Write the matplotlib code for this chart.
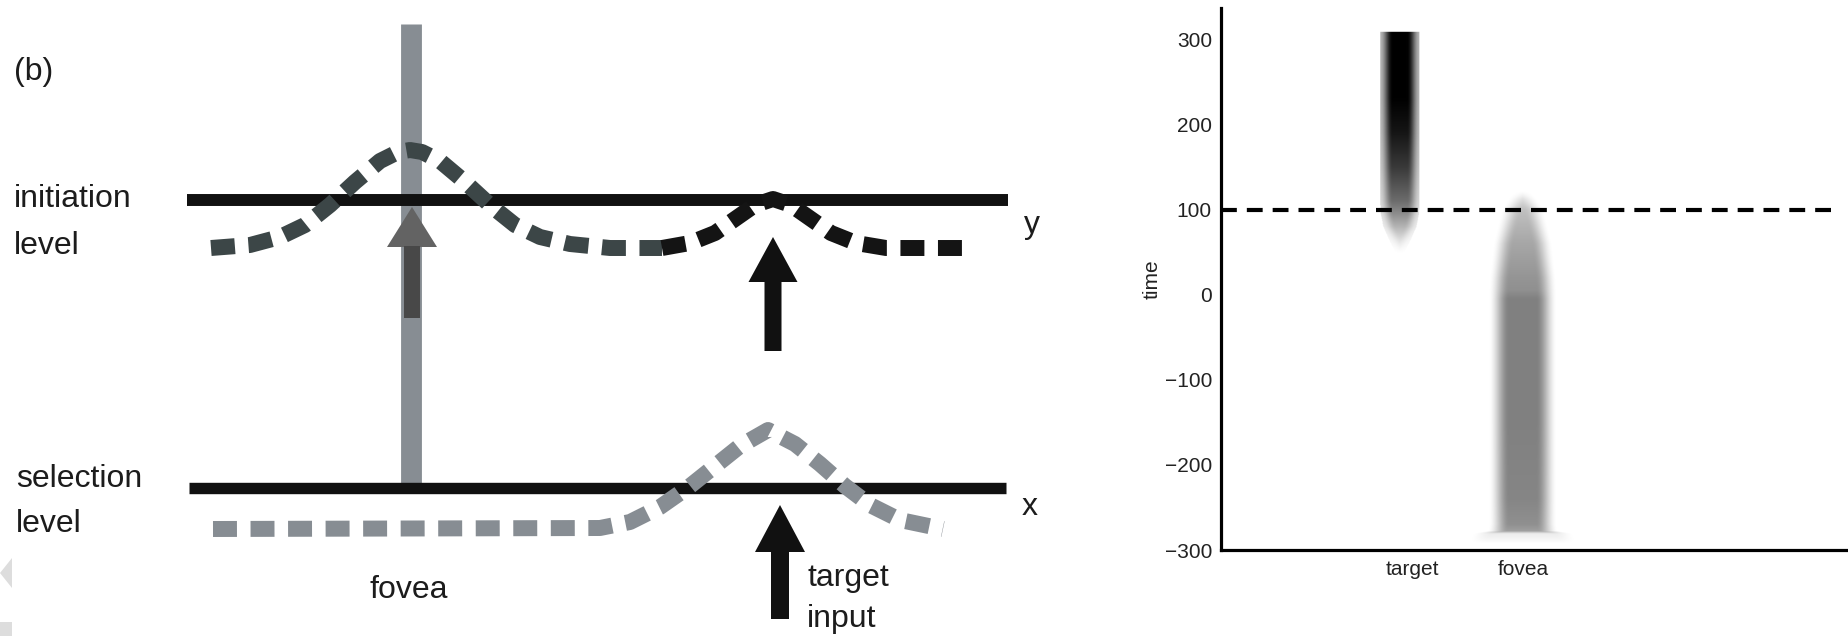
import numpy as np
import matplotlib.pyplot as plt
import matplotlib.transforms as mtransforms
from matplotlib.patches import Polygon

plt.rcParams['font.family'] = ['Liberation Sans', 'DejaVu Sans']

# ---------------- panel (b): schematic (image pixel units, y grows downward)
init_level_y = 200
select_level_y = 488
level_x = [187, 1008]
fovea_x = 411
target_x = 775

# initiation-level activity
init_x = [211, 250, 280, 305, 330, 355, 380, 398, 410, 422, 440, 465, 490, 515, 540, 570, 610, 662]
init_y = [248, 245, 237, 225, 205, 182, 161, 152, 150, 152, 161, 182, 205, 225, 237, 244, 248, 248]
init2_x = [662, 690, 715, 735, 755, 773, 791, 811, 831, 856, 886, 964]
init2_y = [248, 243, 233, 219, 205, 199, 205, 219, 233, 243, 248, 248]
# selection-level activity
sel_x = [213, 600, 630, 660, 690, 715, 740, 768, 795, 820, 845, 870, 900, 943]
sel_y = [529, 528, 522, 507, 486, 466, 446, 430, 444, 464, 486, 505, 520, 529]

# ---------------- panel (c): time course
categories = ['target', 'fovea']
cat_pos = [1, 2]
yticks = [-300, -200, -100, 0, 100, 200, 300]
threshold = 100

target_time = [309, 230, 190, 150, 110, 95, 80, 65, 48]
target_dark = [1.0, 1.0, 0.92, 0.78, 0.58, 0.45, 0.3, 0.14, 0.0]
target_half = [0.16, 0.16, 0.16, 0.16, 0.16, 0.155, 0.135, 0.09, 0.03]

fovea_time = [122, 112, 100, 60, 20, 5, -5, -150, -240, -270, -278, -281, -288, -293]
fovea_dark = [0.0, 0.15, 0.25, 0.35, 0.42, 0.44, 0.5, 0.5, 0.48, 0.44, 0.38, 0.08, 0.04, 0.0]
fovea_half = [0.08, 0.13, 0.18, 0.245, 0.275, 0.28, 0.28, 0.28, 0.28, 0.28, 0.29, 0.42, 0.45, 0.45]

fig = plt.figure(figsize=(18.49, 6.36), dpi=100)

# ---------- left schematic
ax = fig.add_axes([0, 0, 1100 / 1849, 1])
ax.set_xlim(0, 1100)
ax.set_ylim(636, 0)
ax.axis('off')

slate = '#3c4647'
grey = '#878d93'
ax.plot([fovea_x, fovea_x], [24, select_level_y - 5], color=grey, lw=15, solid_capstyle='butt', zorder=1)
ax.plot(level_x, [init_level_y] * 2, color='#111111', lw=8.6, solid_capstyle='butt', zorder=2)
ax.plot([189, 1006], [select_level_y] * 2, color='#111111', lw=8.2, solid_capstyle='butt', zorder=2)

dash = (0, (1.5, 0.85))
ax.plot(init_x, init_y, color=slate, lw=11.5, ls=dash, dash_capstyle='butt', zorder=4)
ax.plot(init2_x, init2_y, color='#141414', lw=11.5, ls=dash, dash_capstyle='butt', zorder=4)
ax.plot(sel_x, sel_y, color=grey, lw=11.5, ls=dash, dash_capstyle='butt', zorder=4)

# arrows
ax.arrow(fovea_x + 1, 318, 0, -111, width=16, head_width=50, head_length=40,
         length_includes_head=True, color='#636363', lw=0, zorder=3)
ax.plot([fovea_x + 1, fovea_x + 1], [318, 246], color='#484848', lw=11.5, solid_capstyle='butt', zorder=3)
ax.arrow(773, 351, 0, -114, width=17, head_width=49, head_length=45,
         length_includes_head=True, color='#111111', lw=0, zorder=3)
ax.arrow(780, 619, 0, -114, width=18, head_width=50, head_length=47,
         length_includes_head=True, color='#111111', lw=0, zorder=3)

fs = 23
tc = '#1c1c1c'
ax.text(14, 80, '(b)', fontsize=fs, color=tc, va='baseline')
ax.text(14, 207, 'initiation', fontsize=fs, color=tc, va='baseline')
ax.text(14, 254, 'level', fontsize=fs, color=tc, va='baseline')
ax.text(16, 487, 'selection', fontsize=fs, color=tc, va='baseline')
ax.text(16, 532, 'level', fontsize=fs, color=tc, va='baseline')
ax.text(409, 598, 'fovea', fontsize=fs, color=tc, va='baseline', ha='center')
ax.text(807, 586, 'target', fontsize=fs, color=tc, va='baseline')
ax.text(807, 627, 'input', fontsize=fs, color=tc, va='baseline')
ax.text(1024, 233, 'y', fontsize=fs, color=tc, va='baseline')
ax.text(1022, 515, 'x', fontsize=fs, color=tc, va='baseline')

# faint page marks at left edge
ax.add_patch(Polygon([[0, 573], [12, 558], [12, 588]], closed=True, color='#dddddd', lw=0))
ax.add_patch(Polygon([[0, 622], [12, 622], [12, 636], [0, 636]], closed=True, color='#dddddd', lw=0))

# ---------- right time course
bx = fig.add_axes([1221 / 1849, 86 / 636, 628 / 1849, 542 / 636])
bx.set_ylim(-300, 337)
bx.set_xlim(-0.455, 4.651)

xs = np.linspace(0.4, 2.7, 600)
ys = np.linspace(-300, 320, 700)


def column_alpha(cx, times, dark, half, soft, rim):
    t = np.asarray(times)[::-1]
    d = np.interp(ys, t, np.asarray(dark)[::-1], left=0, right=0)
    h = np.interp(ys, t, np.asarray(half)[::-1], left=0, right=0)
    dx = np.abs(xs[None, :] - cx)
    inner = np.clip((h[:, None] - dx) / soft, 0, 1)
    inner = inner * inner * (3 - 2 * inner)
    edge = np.where(dx < h[:, None], rim + (1 - rim) * inner, 0)
    return d[:, None] * edge


a1 = column_alpha(cat_pos[0], target_time, target_dark, target_half, 0.1, 0.3)
a2 = column_alpha(cat_pos[1], fovea_time, fovea_dark, fovea_half, 0.17, 0.0)
alpha = 1 - (1 - a1) * (1 - a2)
rgba = np.zeros((len(ys), len(xs), 4))
rgba[..., 3] = alpha
bx.imshow(rgba, extent=[xs[0], xs[-1], ys[0], ys[-1]], origin='lower',
          aspect='auto', interpolation='bilinear', zorder=1)

bx.axhline(threshold, xmin=0, xmax=0.985, color='black', lw=3, ls=(0, (3.8, 2.4)), zorder=3)

for s in ['top', 'right']:
    bx.spines[s].set_visible(False)
for s in ['left', 'bottom']:
    bx.spines[s].set_linewidth(2.3)
bx.set_yticks(yticks)
bx.set_xticks(cat_pos)
bx.set_xticklabels(categories)
bx.tick_params(axis='both', length=0, labelsize=15, labelcolor='#222222')
bx.tick_params(axis='y', pad=6.5)
bx.tick_params(axis='x', pad=7)
bx.set_ylabel('time', fontsize=15, color='#222222', labelpad=2)
# the "target" label sits a little right of its column in the original
shift = mtransforms.ScaledTranslation(0.12, 0, fig.dpi_scale_trans)
lab = bx.get_xticklabels()[0]
lab.set_transform(lab.get_transform() + shift)

fig.savefig('out.png', dpi=100)
